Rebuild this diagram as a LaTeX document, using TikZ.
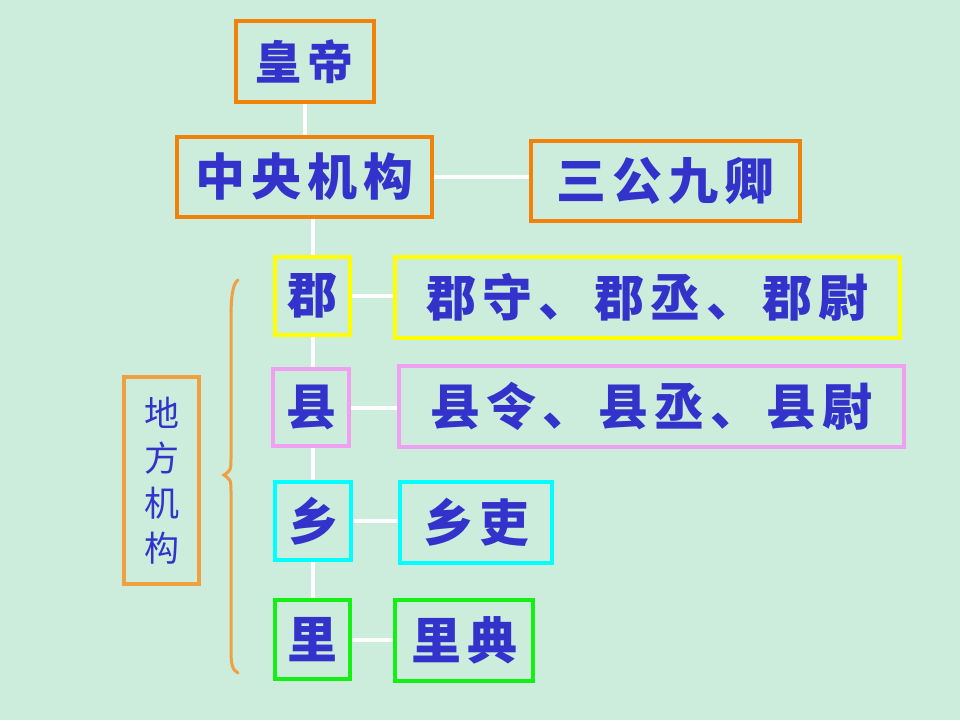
\documentclass[tikz,border=0pt]{standalone}
\usepackage{fontspec}
\newfontfamily\cjk[LetterSpace=12]{Noto Sans CJK SC}
\newfontfamily\cjkplain{Noto Sans CJK SC}
\definecolor{bgmint}{RGB}{204,236,220}
\definecolor{txtblue}{RGB}{51,51,204}
\definecolor{orgA}{RGB}{240,130,10}
\definecolor{orgB}{RGB}{240,160,64}
\definecolor{yel}{RGB}{255,255,0}
\definecolor{pnk}{RGB}{240,160,240}
\definecolor{cyn}{RGB}{0,255,255}
\definecolor{grn}{RGB}{20,240,20}
\begin{document}
\begin{tikzpicture}[x=1pt,y=-1pt,
    box/.style={draw, line width=4pt, inner sep=0pt, text=txtblue,
      font=\cjk\bfseries\fontsize{50}{56}\selectfont},
    link/.style={draw=white, line width=4pt}]
        \fill[bgmint] (0,0) rectangle (960,720);
        \node[box, draw=orgA, minimum width=138, minimum height=81, font=\cjk\bfseries\fontsize{46}{52}\selectfont] (huangdi) at (304.5,61.5) {皇帝};
        \node[box, draw=orgA, minimum width=255, minimum height=80] (zhongyang) at (304.5,177) {中央机构};
        \node[box, draw=orgA, minimum width=269, minimum height=80] (sangong) at (665.5,181) {三公九卿};
        \node[box, draw=yel, minimum width=75, minimum height=78] (jun) at (312.5,296) {郡};
        \node[box, draw=yel, minimum width=505, minimum height=81] (junguan) at (647.5,297.5) {郡守、郡丞、郡尉};
        \node[box, draw=pnk, minimum width=76, minimum height=77] (xian) at (311,407.5) {县};
        \node[box, draw=pnk, minimum width=505, minimum height=81] (xianguan) at (651.5,406.5) {县令、县丞、县尉};
        \node[box, draw=cyn, minimum width=76, minimum height=78] (xiang) at (313,521) {乡};
        \node[box, draw=cyn, minimum width=152, minimum height=81] (xiangguan) at (476,522.5) {乡吏};
        \node[box, draw=grn, minimum width=75, minimum height=79] (li) at (312.5,639.5) {里};
        \node[box, draw=grn, minimum width=138, minimum height=81] (liguan) at (464,640.5) {里典};
        \node[draw=orgB, line width=3.5pt, inner sep=0pt, minimum width=75, minimum height=207,
          align=center, text=txtblue, font=\cjkplain\fontsize{35}{45}\selectfont] (difang) at (161.5,480.5) {地\\方\\机\\构};
        \draw[link] (huangdi.south) -- (huangdi.south |- zhongyang.north);
        \draw[link] (zhongyang.east) -- (zhongyang.east -| sangong.west);
        \draw[link] (jun.north) -- (jun.north |- zhongyang.south);
        \draw[link] (jun.east) -- (junguan.west |- jun.east);
        \draw[link] (jun.south) -- (jun.south |- xian.north);
        \draw[link] (xian.east) -- (xianguan.west |- xian.east);
        \draw[link] (xiang.north) -- (xiang.north |- xian.south);
        \draw[link] (xiang.east) -- (xiangguan.west |- xiang.east);
        \draw[link] (li.north) -- (li.north |- xiang.south);
        \draw[link] (li.east) -- (liguan.west |- li.east);
        \draw[orgB, line width=3pt, line cap=round]
          (238,280) .. controls (232,284) and (231,300) .. (231,320) -- (231,458)
          .. controls (231,470) .. (224,475) .. controls (231,480) .. (231,492)
          -- (231,648) .. controls (231,664) and (232,670) .. (238,673);
\end{tikzpicture}
\end{document}
